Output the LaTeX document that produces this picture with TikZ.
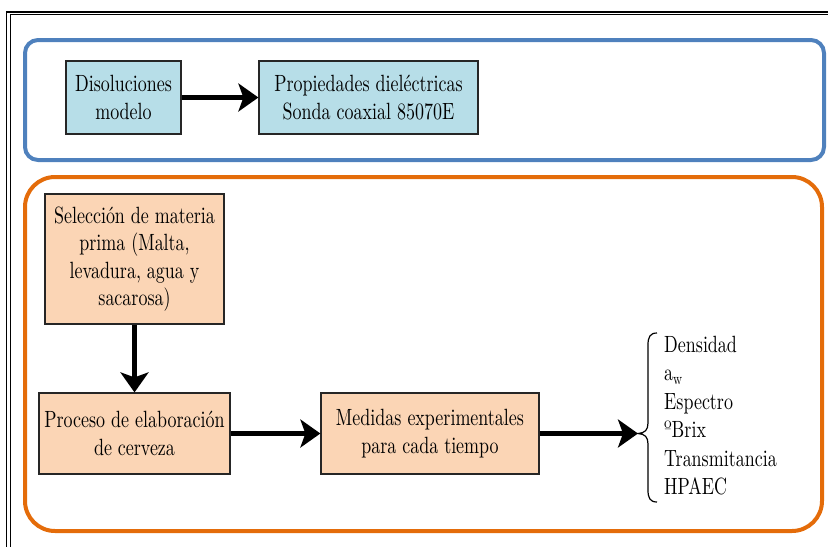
\documentclass[tikz,border=0pt]{standalone}
\usepackage{fontspec}
\setmainfont{lmroman10-regular.otf}[FakeStretch=0.765]
\usetikzlibrary{arrows.meta}
\definecolor{frameblue}{HTML}{4F81BD}
\definecolor{frameorange}{HTML}{E46C0A}
\definecolor{boxblue}{HTML}{B7DEE8}
\definecolor{boxpeach}{HTML}{FBD5B5}
\begin{document}
\begin{tikzpicture}[x=1pt,y=-1pt,
  txt/.style={font=\fontsize{23.5}{27.5}\selectfont},
  bluebox/.style={txt, draw=black!85, line width=1.2pt, fill=boxblue, inner sep=0pt, align=center},
  peachbox/.style={txt, draw=black!85, line width=1.2pt, fill=boxpeach, inner sep=0pt, align=center},
  flow/.style={line width=5.5pt, -{Stealth[length=20pt,width=28pt,inset=5pt]}},
  group/.style={line width=4pt}
]
\useasboundingbox (0,0) rectangle (828,547);
% outer page border
\draw[line width=2.3pt] (6,12.2) -- (828,12.2);
\draw[line width=1pt] (10,14.8) -- (828,14.8);
\draw[line width=1pt] (6.8,11) -- (6.8,547);
\draw[line width=1pt] (10,14.8) -- (10,547);
% group frames
\draw[group, draw=frameblue, rounded corners=13pt] (25,40) rectangle (824,160);
\draw[group, draw=frameorange, rounded corners=30pt] (25,177) rectangle (822,531);
% nodes
\node[bluebox, minimum width=115pt, minimum height=73pt] (dis) at (123.5,97.5) {Disoluciones\\modelo};
\node[bluebox, minimum width=219pt, minimum height=73pt] (prop) at (368.5,97.5) {Propiedades dieléctricas\\Sonda coaxial 85070E};
\node[peachbox, minimum width=179pt, minimum height=130pt] (sel) at (134.5,259) {Selección de materia\\prima (Malta,\\levadura, agua y\\sacarosa)};
\node[peachbox, minimum width=191pt, minimum height=81pt] (proc) at (134.5,433.5) {Proceso de elaboración\\de cerveza};
\node[peachbox, minimum width=218pt, minimum height=81pt] (med) at (430,433.5) {Medidas experimentales\\para cada tiempo};
\node[anchor=north west, inner sep=0pt, align=left, font=\fontsize{23.5}{28.4}\selectfont] (list) at (664,336)
  {Densidad\\a\textsubscript{w}\\Espectro\\ºBrix\\Transmitancia\\HPAEC};
\coordinate (brtip) at (638,433.5);
% connectors
\draw[flow] (dis) -- (prop);
\draw[flow] (sel) -- (proc);
\draw[flow] (proc) -- (med);
\draw[flow] (med.east) -- (brtip);
% brace
\draw[line width=1.2pt] (657,333) .. controls (650,333) and (648,337) .. (648,345) -- (648,423)
  .. controls (648,430) and (645,433) .. (638,433.5)
  .. controls (645,434) and (648,437) .. (648,444) -- (648,490)
  .. controls (648,498) and (650,502) .. (657,502);
\end{tikzpicture}
\end{document}
